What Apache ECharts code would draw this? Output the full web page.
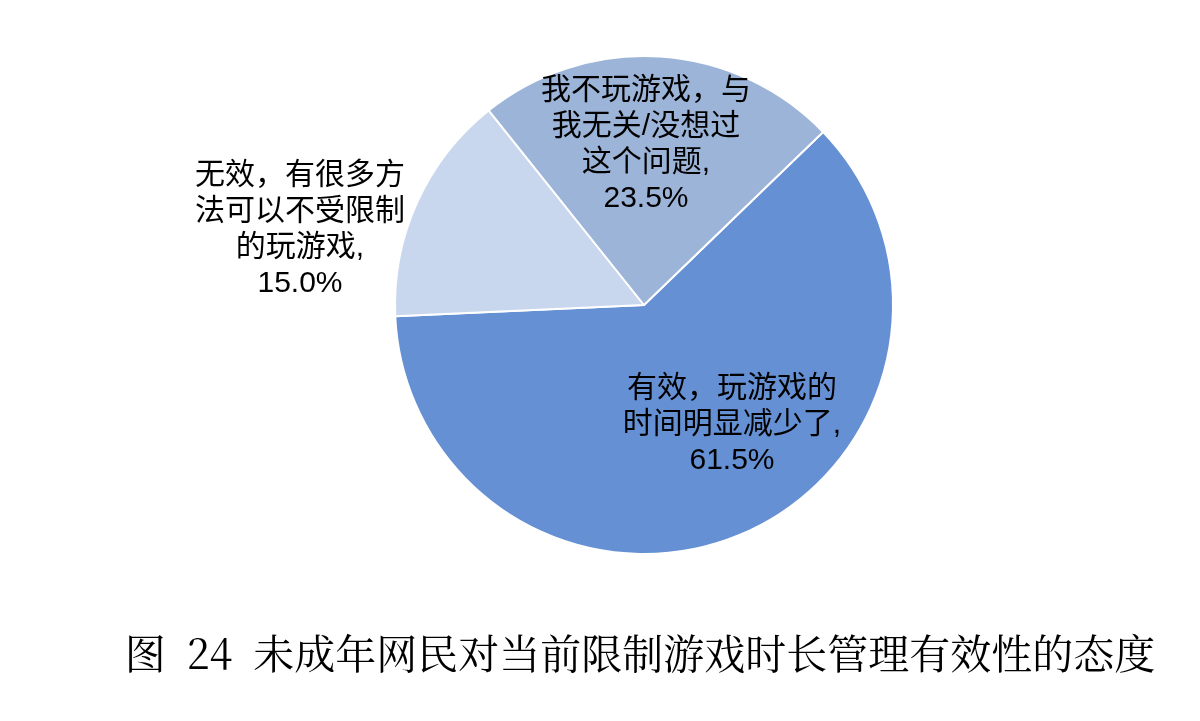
<!DOCTYPE html>
<html>
<head>
<meta charset="utf-8">
<script src="https://cdn.jsdelivr.net/npm/echarts@6/dist/echarts.min.js"></script>
<style>html,body{margin:0;padding:0;background:#fff}#c{width:1200px;height:721px}</style>
</head>
<body>
<div id="c"></div>
<script>
const categories = [
  '有效，玩游戏的\n时间明显减少了,',
  '无效，有很多方\n法可以不受限制\n的玩游戏,',
  '我不玩游戏，与\n我无关/没想过\n这个问题,'
];
const values = [61.5, 15.0, 23.5];
const colors = ['#6590D3', '#C9D7EE', '#9DB4D9'];
const titleText = '图  24  未成年网民对当前限制游戏时长管理有效性的态度';

const labelPos = [ [732, 425], [300, 230], [646, 145] ];

const chart = echarts.init(document.getElementById('c'), null, {renderer: 'canvas'});
chart.setOption({
  backgroundColor: '#fff',
  animation: false,
  title: {
    text: titleText,
    left: 635,
    textAlign: 'center',
    top: 628,
    textStyle: {
      fontFamily: '"Noto Serif CJK SC", "Noto Sans CJK SC", serif',
      fontSize: 41,
      fontWeight: 'normal',
      color: '#000'
    }
  },
  series: [{
    type: 'pie',
    center: [644, 305],
    radius: 249,
    startAngle: 44,
    clockwise: true,
    data: categories.map((n, i) => ({name: n, value: values[i], itemStyle: {color: colors[i]}})),
    itemStyle: { borderColor: '#fff', borderWidth: 2 },
    label: {
      show: true,
      position: 'inside',
      formatter: p => p.name + '\n' + p.value.toFixed(1) + '%',
      fontFamily: '"Liberation Sans", "Noto Sans CJK SC", sans-serif',
      fontSize: 30,
      lineHeight: 36,
      color: '#000',
      align: 'center'
    },
    labelLine: { show: false },
    labelLayout: function (params) {
      const p = labelPos[params.dataIndex];
      return { x: p[0], y: p[1], align: 'center', verticalAlign: 'middle' };
    },
    emphasis: { disabled: true }
  }]
});
</script>
</body>
</html>
